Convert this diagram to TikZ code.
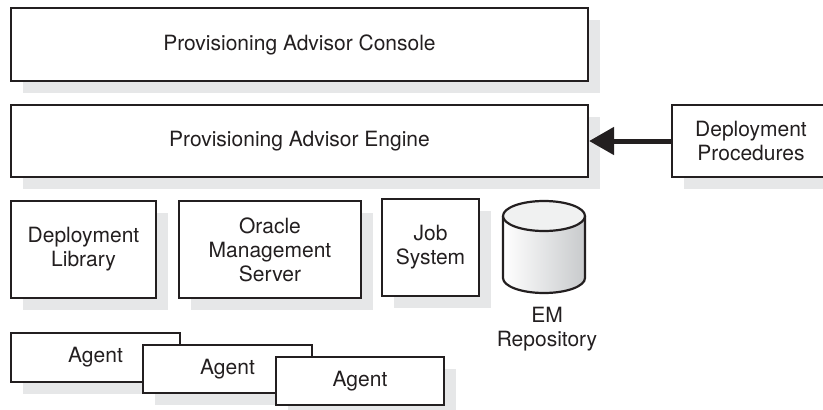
\documentclass[tikz,border=0pt]{standalone}
\usepackage{fontspec}
\setmainfont{TeX Gyre Heros}
\usetikzlibrary{shadows,arrows.meta}
\definecolor{ink}{HTML}{231F20}
\definecolor{shade}{HTML}{E6E7E8}
\definecolor{cylgray}{HTML}{C8CACC}
\tikzset{
  blk/.style={draw=ink, line width=2.2pt, fill=white, inner sep=0pt, align=center,
    text=ink, font=\fontsize{21}{24}\selectfont,
    drop shadow={shadow xshift=12pt, shadow yshift=-12pt, fill=shade, opacity=1, draw=none}},
  lbl/.style={inner sep=0pt, align=center, text=ink, font=\fontsize{21}{24}\selectfont}
}
\begin{document}
\begin{tikzpicture}[x=1pt,y=-1pt]
\useasboundingbox (0,0) rectangle (823,410);
\node[blk, minimum width=577pt, minimum height=73pt] (console) at (299.5,44.5) {Provisioning Advisor Console};
\node[blk, minimum width=577pt, minimum height=72pt] (engine) at (299.5,141) {Provisioning Advisor Engine};
\node[blk, minimum width=158pt, minimum height=72pt] (dp) at (751,141) {Deployment\\Procedures};
\node[blk, minimum width=145pt, minimum height=97pt] (dl) at (83.5,249.5) {Deployment\\Library};
\node[blk, minimum width=182pt, minimum height=97pt] (oms) at (270,249.5) {Oracle\\Management\\Server};
\node[blk, minimum width=97pt, minimum height=97pt] (job) at (430.5,247.5) {Job\\System};
% cylinder
\path[left color=white, right color=cylgray]
  (503,216) -- (503,278) arc[start angle=180, end angle=360, x radius=41, y radius=-15]
  -- (585,216) arc[start angle=0, end angle=180, x radius=41, y radius=-15] -- cycle;
\draw[ink, line width=2.2pt]
  (503,216) -- (503,278) arc[start angle=180, end angle=360, x radius=41, y radius=-15]
  -- (585,216);
\draw[ink, line width=2.2pt, fill=shade!60!white] (544,216) ellipse[x radius=41, y radius=15];
\node[lbl] (emrep) at (547,329) {EM\\Repository};
\node[blk, minimum width=169pt, minimum height=49pt] (a1) at (95.5,357.5) {Agent};
\node[blk, minimum width=169pt, minimum height=48pt] (a2) at (227.5,369) {Agent};
\node[blk, minimum width=168pt, minimum height=48pt] (a3) at (360,381) {Agent};
\draw[ink, line width=5pt, -{Triangle[length=25pt, width=27pt]}] (dp.west) -- (engine.east);
\end{tikzpicture}
\end{document}
